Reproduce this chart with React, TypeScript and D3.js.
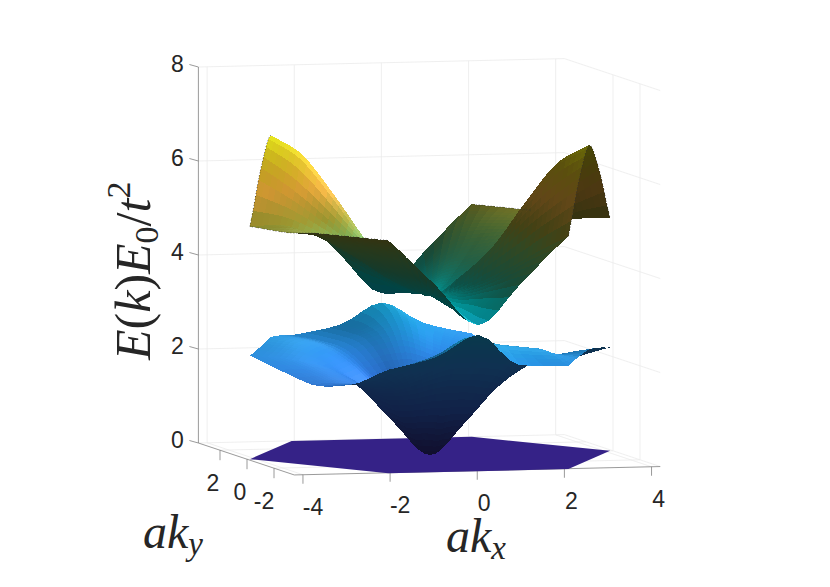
import * as d3 from 'd3';

// tick labels
const xTicks = [-4, -2, 0, 2, 4];
const yTicks = [2, 0, -2];
const zTicks = [0, 2, 4, 6, 8];

// axis limits
const xLim = [-4.2, 4.2];
const yLim = [-3.5, 3.6];
const zLim = [0, 8];

// energy, polar around the zone centre.
// one row per ring (20%, 40% .. 100% of the way to the zone edge),
// one column per 15 degrees; a table with 12 columns repeats for the other half turn.
const topCentre = 3.4;
const topRings = [
  [3.7, 3.65, 3.6, 3.55, 3.5, 3.45, 3.35, 3.45, 3.55, 3.75, 3.85, 3.8],
  [4.2, 4.1, 4.0, 3.9, 3.8, 3.55, 3.3, 3.5, 3.85, 4.35, 4.5, 4.4],
  [4.65, 4.5, 4.4, 4.3, 4.15, 3.7, 3.25, 3.65, 4.2, 5.0, 5.45, 5.0],
  [4.95, 4.8, 4.75, 4.7, 4.6, 3.85, 3.15, 3.8, 4.6, 5.6, 6.3, 5.6],
  [4.95, 4.9, 4.95, 4.95, 4.95, 3.95, 3.1, 3.95, 4.95, 6.1, 6.7, 6.1],
];
const midCentre = 0;
const midRings = [
  [0.7, 0.68, 0.62, 0.62, 0.66, 0.65, 0.62, 0.65, 0.68, 0.66, 0.64, 0.66,
    0.7, 0.68, 0.62, 0.62, 0.66, 0.65, 0.62, 0.66, 0.68, 0.66, 0.64, 0.66],
  [1.5, 1.42, 1.35, 1.38, 1.45, 1.55, 1.6, 1.6, 1.5, 1.45, 1.45, 1.45,
    1.5, 1.42, 1.35, 1.38, 1.45, 1.55, 1.6, 1.6, 1.55, 1.5, 1.45, 1.45],
  [1.95, 1.75, 1.6, 1.65, 1.9, 2.15, 2.35, 2.25, 2.05, 1.95, 1.95, 1.95,
    1.95, 1.75, 1.6, 1.65, 1.9, 2.15, 2.35, 2.35, 2.3, 2.15, 1.98, 1.95],
  [2.12, 1.88, 1.7, 1.78, 2.12, 2.4, 2.75, 2.42, 2.2, 2.25, 2.27, 2.22,
    2.12, 1.88, 1.7, 1.78, 2.12, 2.4, 2.75, 2.6, 2.5, 2.3, 2.22, 2.18],
  [2.2, 1.9, 1.7, 1.8, 2.2, 2.45, 2.9, 2.45, 2.25, 2.35, 2.4, 2.3,
    2.2, 1.9, 1.7, 1.8, 2.2, 2.45, 2.9, 2.23, 2.2, 2.3, 2.35, 2.3],
];

const energyStops = [0, 1, 2, 2.9, 3.4, 4, 4.6, 5, 5.6, 6.2, 6.7];
const energyColors = ['#352a87', '#3565d8', '#2f92f5', '#18b0e4', '#00d0d0', '#40b080', '#78aa50', '#a09a30', '#e8a838', '#d8bc20', '#d8d810'];

const edgeSpans = [[35, 60], [150, 240], [300, 360]];

const WIDTH = 830;
const HEIGHT = 587;
const EDGE = 3.58; // centre to zone edge
const BLUR = 3;

const xScale = d3.scaleLinear().domain(xLim).range([-183, 183]);
const yScale = d3.scaleLinear().domain([0, 1]).range([0, 13.5]);
const zScale = d3.scaleLinear().domain(zLim).range([0, 376]);
const colorScale = d3.scaleLinear<string>().domain(energyStops).range(energyColors).clamp(true);

function project(kx: number, ky: number, z: number) {
  return [
    430 + xScale(kx) - yScale(ky),
    455 - kx - 4.5 * ky - zScale(z),
  ];
}

function catmull(a: number, b: number, c: number, d: number, t: number) {
  return 0.5 * (2 * b + (c - a) * t + (2 * a - 5 * b + 4 * c - d) * t * t + (3 * b - a - 3 * c + d) * t * t * t);
}

// no overshoot round the corners of the zone
function tangent(a: number, b: number, c: number) {
  const s0 = b - a;
  const s1 = c - b;
  return s0 * s1 <= 0 ? 0 : (2 * s0 * s1) / (s0 + s1);
}

// the zone corners are every fourth spoke; they stay sharp out at the rim
const cornerWeights = [0, 0, 0, 0.2, 0.6, 1];

function aroundRing(a: number, b: number, c: number, d: number, t: number, j: number, ring: number) {
  const w = cornerWeights[Math.min(Math.abs(ring), 5)];
  let m0 = tangent(a, b, c);
  let m1 = tangent(b, c, d);
  const jm = ((j % 4) + 4) % 4;
  if (jm === 0) m0 += (c - b - m0) * w;
  if (jm === 3) m1 += (c - b - m1) * w;
  const t2 = t * t;
  const t3 = t2 * t;
  return (2 * t3 - 3 * t2 + 1) * b + (t3 - 2 * t2 + t) * m0 + (-2 * t3 + 3 * t2) * c + (t3 - t2) * m1;
}

function ringValue(rings: number[][], centre: number, i: number, j: number) {
  const cols = rings[0].length;
  const spoke = i < 0 ? j + 12 : j; // through the centre to the opposite spoke
  const s = ((spoke % cols) + cols) % cols;
  const r = Math.abs(i);
  if (r === 0) return centre;
  if (r > 5) return 2 * rings[4][s] - rings[3][s];
  return rings[r - 1][s];
}

function energyAt(rings: number[][], centre: number, u: number, v: number) {
  const i = Math.min(Math.floor(u), 4);
  const j = Math.min(Math.floor(v), 23);
  const tu = u - i;
  const tv = v - j;
  const across = [-1, 0, 1, 2].map(di =>
    aroundRing(
      ringValue(rings, centre, i + di, j - 1),
      ringValue(rings, centre, i + di, j),
      ringValue(rings, centre, i + di, j + 1),
      ringValue(rings, centre, i + di, j + 2),
      tv,
      j,
      i + di
    )
  );
  return catmull(across[0], across[1], across[2], across[3], tu);
}

function edgeRadius(deg: number) {
  const off = ((deg - 30) % 60 + 60) % 60;
  const d = off > 30 ? off - 60 : off;
  return EDGE / Math.cos((d * Math.PI) / 180);
}

const unit = (v: number[]) => {
  const n = Math.hypot(v[0], v[1], v[2]) || 1;
  return v.map(c => c / n);
};
const dot = (a: number[], b: number[]) => d3.sum(a.map((c, i) => c * b[i]));
const LIGHT = unit([0.7, -0.3, 0.65]);
const GLOSS_HIGH = unit([0.66, -0.38, 0.65]);
const GLOSS_LOW = unit([0.2, -0.1, 0.97]);
const AWAY = [13.5, 43.6, -4.46];

function shade(n: number[], z: number, facing: boolean) {
  const base = d3.rgb(colorScale(z));
  let k: number;
  let s = 0;
  if (facing) {
    k = 0.42 + 0.62 * Math.max(0, dot(n, LIGHT));
    s = 0.14 * Math.pow(Math.max(0, dot(n, GLOSS_HIGH)), 24) + 0.08 * Math.pow(Math.max(0, dot(n, GLOSS_LOW)), 60);
  } else {
    k = 0.33;
  }
  return d3.rgb(base.r * k + 255 * s, base.g * k + 255 * s, base.b * k + 255 * s).formatHex();
}

function sheetPoint(rings: number[][], centre: number, u: number, v: number) {
  const deg = v * 15;
  const rad = (u / 5) * edgeRadius(deg);
  const th = (deg * Math.PI) / 180;
  return [rad * Math.cos(th), rad * Math.sin(th), energyAt(rings, centre, u, v)];
}

function buildSheet(rings: number[][], centre: number) {
  const NU = 30;
  const NV = 96;
  const pts: number[][][] = [];
  for (let a = 0; a <= NU; a++) {
    const row: number[][] = [];
    for (let b = 0; b <= NV; b++) {
      row.push(sheetPoint(rings, centre, (a / NU) * 5, (b / NV) * 24));
    }
    pts.push(row);
  }
  // face normals first, so the shading can be evened out over the neighbours
  const normals: number[][][] = [];
  for (let a = 0; a < NU; a++) {
    const row: number[][] = [];
    for (let b = 0; b < NV; b++) {
      const p = [pts[a][b], pts[a + 1][b], pts[a + 1][b + 1], pts[a][b + 1]];
      const d1 = [0, 1, 2].map(i => p[2][i] - p[0][i]);
      const d2 = [0, 1, 2].map(i => p[3][i] - p[1][i]);
      row.push(unit([
        d1[1] * d2[2] - d1[2] * d2[1],
        d1[2] * d2[0] - d1[0] * d2[2],
        d1[0] * d2[1] - d1[1] * d2[0],
      ]));
    }
    normals.push(row);
  }
  const quads: { d: string; fill: string; depth: number }[] = [];
  for (let a = 0; a < NU; a++) {
    for (let b = 0; b < NV; b++) {
      const p = [pts[a][b], pts[a + 1][b], pts[a + 1][b + 1], pts[a][b + 1]];
      const mid = [0, 1, 2].map(i => d3.mean(p, q => q[i]) as number);
      const facing = dot(normals[a][b], AWAY) < 0;
      const soft = [0, 0, 0];
      for (let da = -BLUR; da <= BLUR; da++) {
        const row = normals[Math.max(0, Math.min(NU - 1, a + da))];
        for (let db = -BLUR; db <= BLUR; db++) {
          const m = row[(b + db + NV) % NV];
          soft[0] += m[0];
          soft[1] += m[1];
          soft[2] += m[2];
        }
      }
      quads.push({
        d: d3.line()(p.map(q => project(q[0], q[1], q[2]) as [number, number])) + 'Z',
        fill: shade(unit(soft), mid[2], facing),
        depth: dot(mid, AWAY),
      });
    }
  }
  return quads.sort((q, r) => r.depth - q.depth);
}

const floorHex = d3.range(6).map(i => {
  const r = edgeRadius(i * 60);
  return project(r * Math.cos((i * Math.PI) / 3), r * Math.sin((i * Math.PI) / 3), 0) as [number, number];
});

const GRID = '#ebebeb';
const AXIS = '#808080';
const TEXT = '#262626';
const MATH = 'Liberation Serif';

function seg(a: number[], b: number[], stroke: string, key: string, w = 0.8) {
  return <line key={key} x1={a[0]} y1={a[1]} x2={b[0]} y2={b[1]} stroke={stroke} strokeWidth={w} />;
}

export default function App() {
  const midSheet = buildSheet(midRings, midCentre);
  const topSheet = buildSheet(topRings, topCentre);
  const [x0, x1] = xLim;
  const [y0, y1] = yLim;
  const [, z1] = zLim;

  const labelStyle = { fontFamily: 'Liberation Sans', fontSize: 23, fill: TEXT };

  const edgePaths = edgeSpans.map(([from, to]) =>
    d3.line()(d3.range(from, to + 1, 3).map(deg => {
      const q = sheetPoint(topRings, topCentre, 5, deg / 15);
      return project(q[0], q[1], q[2]) as [number, number];
    }))
  );

  return (
    <svg width={WIDTH} height={HEIGHT} style={{ position: 'absolute', left: 0, top: 0, background: '#fff' }}>
      {/* walls and floor */}
      {xTicks.map(t => seg(project(t, y1, 0), project(t, y1, z1), GRID, `xw${t}`))}
      {xTicks.map(t => seg(project(t, y0, 0), project(t, y1, 0), GRID, `xf${t}`))}
      {yTicks.filter(t => t !== 2).map(t => seg(project(x1, t, 0), project(x1, t, z1), GRID, `yw${t}`))}
      {yTicks.map(t => seg(project(x0, t, 0), project(x1, t, 0), GRID, `yf${t}`))}
      {zTicks.map(t => seg(project(x0, y1, t), project(x1, y1, t), GRID, `zb${t}`))}
      {zTicks.map(t => seg(project(x1, y1, t), project(x1, y0, t), GRID, `zr${t}`))}

      {/* axes */}
      {seg(project(x0, y1, 0), project(x0, y1, z1), AXIS, 'zaxis')}
      {seg(project(x0, y1, 0), project(x0, y0, 0), AXIS, 'yaxis')}
      {seg(project(x0, y0, 0), project(x1, y0, 0), AXIS, 'xaxis')}
      {zTicks.map(t => {
        const p = project(x0, y1, t);
        return seg(p, [p[0] - 9, p[1] - 2.5], AXIS, `zt${t}`);
      })}
      {yTicks.map(t => {
        const p = project(x0, t, 0);
        return seg(p, [p[0], p[1] + 10], AXIS, `yt${t}`);
      })}
      {xTicks.map(t => {
        const p = project(t, y0, 0);
        return seg(p, [p[0], p[1] + 9], AXIS, `xt${t}`);
      })}

      {/* bands, lowest first */}
      <path d={d3.line()(floorHex) + 'Z'} fill="#352287" />
      <g shapeRendering="crispEdges">
        {midSheet.map((q, i) => (
          <path key={`m${i}`} d={q.d} fill={q.fill} />
        ))}
        {topSheet.map((q, i) => (
          <path key={`t${i}`} d={q.d} fill={q.fill} />
        ))}
      </g>
      {edgePaths.map((d, i) => (
        <path key={`e${i}`} d={d as string} fill="none" stroke="#333" strokeOpacity={0.7} strokeWidth={1} strokeDasharray="1 2" />
      ))}

      {/* tick labels */}
      <g style={labelStyle} textAnchor="middle" dominantBaseline="central">
        {zTicks.map(t => {
          const p = project(x0, y1, t);
          return <text key={t} x={p[0] - 21} y={p[1] - 3}>{t}</text>;
        })}
        {yTicks.map(t => {
          const p = project(x0, t, 0);
          return <text key={t} x={p[0] - 7 + (t < 0 ? -3 : 0)} y={p[1] + 33}>{t}</text>;
        })}
        {xTicks.map(t => {
          const p = project(t, y0, 0);
          return <text key={t} x={p[0] + (t < 0 ? 10 : 7)} y={p[1] + 32}>{t}</text>;
        })}
      </g>

      {/* axis titles */}
      <text x={143} y={548} fontFamily={MATH} fontStyle="italic" fontSize={48} fill={TEXT}>
        ak<tspan fontSize={33} dy={7}>y</tspan>
      </text>
      <text x={446} y={552} fontFamily={MATH} fontStyle="italic" fontSize={48} fill={TEXT}>
        ak<tspan fontSize={33} dy={7}>x</tspan>
      </text>
      <text transform="translate(150,360) rotate(-90)" fontFamily={MATH} fontStyle="italic" fontSize={50} fill={TEXT}>
        E<tspan fontStyle="normal">(</tspan>k<tspan fontStyle="normal">)</tspan>E
        <tspan fontStyle="normal" fontSize={34} dy={8}>0</tspan>
        <tspan fontStyle="normal" dy={-8}>/</tspan>t
        <tspan fontStyle="normal" fontSize={34} dy={-20}>2</tspan>
      </text>
    </svg>
  );
}
